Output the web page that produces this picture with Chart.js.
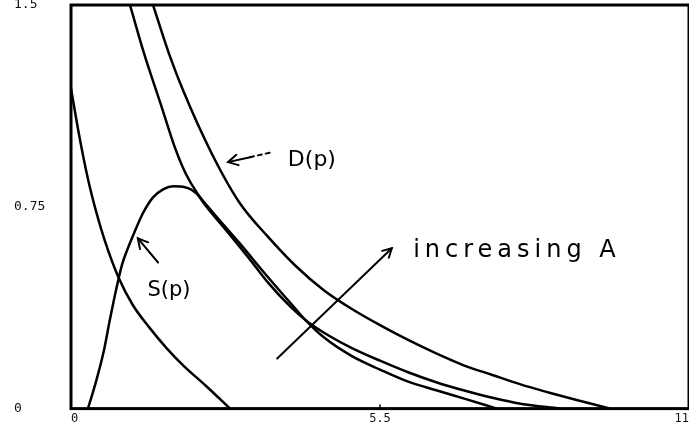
<!DOCTYPE html>
<html>
<head>
<meta charset="utf-8">
<script src="https://cdn.jsdelivr.net/npm/chart.js@4.4.1/dist/chart.umd.min.js"></script>
<style>
  html, body { margin: 0; padding: 0; background: #fff; }
  #wrap { width: 689px; height: 430px; }
</style>
</head>
<body>
<div id="wrap"><canvas id="chart" width="689" height="430"></canvas></div>
<script>
// Axis ticks
const xTicks = [0, 5.5, 11];
const yTicks = [0, 0.75, 1.5];

// Steep curve on the left (no label)
const leftX = [0, 0.15, 0.30, 0.45, 0.60, 0.84, 1.10, 1.40, 1.70, 2.00, 2.40, 2.83];
const leftY = [1.19, 1.01, 0.855, 0.73, 0.625, 0.49, 0.385, 0.30, 0.225, 0.16, 0.085, 0];

// S(p)
const supplyX = [0.30, 0.39, 0.48, 0.59, 0.69, 0.80, 0.91, 1.02, 1.12, 1.28, 1.46, 1.64, 1.82, 2.03, 2.23, 2.39, 2.83, 3.20, 3.50, 3.90, 4.20, 4.60, 5.00, 5.50, 6.00, 6.50, 7.00, 7.50, 8.00, 8.70];
const supplyY = [0, 0.06, 0.127, 0.22, 0.328, 0.439, 0.536, 0.60, 0.651, 0.726, 0.785, 0.815, 0.826, 0.823, 0.80, 0.756, 0.645, 0.55, 0.47, 0.38, 0.325, 0.27, 0.225, 0.178, 0.135, 0.098, 0.067, 0.04, 0.018, 0];

// Inner demand curve
const innerX = [1.05, 1.30, 1.60, 1.85, 2.05, 2.25, 2.50, 3.00, 3.50, 4.00, 4.17, 4.50, 5.00, 5.50, 6.00, 6.50, 7.00, 7.58];
const innerY = [1.50, 1.32, 1.13, 0.97, 0.87, 0.80, 0.735, 0.615, 0.49, 0.37, 0.33, 0.265, 0.195, 0.145, 0.10, 0.068, 0.037, 0];

// D(p)
const demandX = [1.46, 1.76, 2.00, 2.50, 3.00, 3.50, 4.00, 4.50, 5.00, 5.50, 6.00, 6.50, 7.00, 7.50, 8.00, 8.50, 9.00, 9.60];
const demandY = [1.50, 1.31, 1.18, 0.95, 0.765, 0.64, 0.53, 0.44, 0.37, 0.31, 0.255, 0.205, 0.16, 0.125, 0.09, 0.06, 0.032, 0];

function toPoints(xs, ys) {
  return xs.map((x, i) => ({ x: x, y: ys[i] }));
}

function curve(xs, ys) {
  return {
    data: toPoints(xs, ys),
    borderColor: '#000',
    borderWidth: 2.5,
    pointRadius: 0,
    fill: false,
    cubicInterpolationMode: 'monotone'
  };
}

// Open arrow head at (x2, y2)
function arrow(ctx, x1, y1, x2, y2, size) {
  const a = Math.atan2(y2 - y1, x2 - x1);
  ctx.beginPath();
  ctx.moveTo(x2 - size * Math.cos(a - 0.5), y2 - size * Math.sin(a - 0.5));
  ctx.lineTo(x2, y2);
  ctx.lineTo(x2 - size * Math.cos(a + 0.5), y2 - size * Math.sin(a + 0.5));
  ctx.stroke();
}

const whiteBg = {
  id: 'whiteBg',
  beforeDraw(chart) {
    const ctx = chart.ctx;
    ctx.save();
    ctx.fillStyle = '#fff';
    ctx.fillRect(0, 0, chart.width, chart.height);
    ctx.restore();
  }
};

const frameAndNotes = {
  id: 'frameAndNotes',
  afterDatasetsDraw(chart) {
    const { ctx, chartArea: a, scales: { x, y } } = chart;
    const px = v => x.getPixelForValue(v);
    const py = v => y.getPixelForValue(v);

    ctx.save();
    ctx.strokeStyle = '#000';
    ctx.lineWidth = 3;
    ctx.strokeRect(a.left, a.top, a.right - a.left, a.bottom - a.top);

    // small tick mark at the middle x tick
    ctx.lineWidth = 1.5;
    ctx.beginPath();
    ctx.moveTo(px(5.5), a.bottom);
    ctx.lineTo(px(5.5), a.bottom - 4);
    ctx.stroke();

    ctx.fillStyle = '#000';
    ctx.lineWidth = 2;
    ctx.lineCap = 'round';
    ctx.textBaseline = 'alphabetic';

    // D(p) label with dashed-tail arrow
    ctx.font = '22px "DejaVu Sans"';
    ctx.fillText('D(p)', px(3.86), py(0.90));
    const dTail = [px(3.58), py(0.953)], dHead = [px(2.795), py(0.916)];
    const mid = [dHead[0] + (dTail[0] - dHead[0]) * 0.5, dHead[1] + (dTail[1] - dHead[1]) * 0.5];
    ctx.beginPath();
    ctx.moveTo(mid[0], mid[1]);
    ctx.lineTo(dHead[0], dHead[1]);
    ctx.stroke();
    ctx.setLineDash([4, 4]);
    ctx.beginPath();
    ctx.moveTo(mid[0], mid[1]);
    ctx.lineTo(dTail[0], dTail[1]);
    ctx.stroke();
    ctx.setLineDash([]);
    arrow(ctx, dTail[0], dTail[1], dHead[0], dHead[1], 11);

    // S(p) label and arrow
    ctx.font = '21px "DejaVu Sans"';
    ctx.fillText('S(p)', px(1.36), py(0.42));
    const sTail = [px(1.55), py(0.543)], sHead = [px(1.19), py(0.633)];
    ctx.beginPath();
    ctx.moveTo(sTail[0], sTail[1]);
    ctx.lineTo(sHead[0], sHead[1]);
    ctx.stroke();
    arrow(ctx, sTail[0], sTail[1], sHead[0], sHead[1], 11);

    // increasing A
    ctx.font = '24px "DejaVu Sans"';
    ctx.letterSpacing = '5px';
    ctx.fillText('increasing A', px(6.09), py(0.565));
    ctx.letterSpacing = '0px';
    const iTail = [px(3.67), py(0.186)], iHead = [px(5.71), py(0.596)];
    ctx.beginPath();
    ctx.moveTo(iTail[0], iTail[1]);
    ctx.lineTo(iHead[0], iHead[1]);
    ctx.stroke();
    arrow(ctx, iTail[0], iTail[1], iHead[0], iHead[1], 10);
    ctx.restore();
  }
};

new Chart(document.getElementById('chart'), {
  type: 'line',
  data: {
    datasets: [
      curve(leftX, leftY),
      curve(supplyX, supplyY),
      curve(innerX, innerY),
      curve(demandX, demandY)
    ]
  },
  options: {
    responsive: false,
    animation: false,
    layout: { padding: { top: 0, left: 14, right: 0, bottom: 0 } },
    plugins: {
      legend: { display: false },
      tooltip: { enabled: false }
    },
    scales: {
      x: {
        type: 'linear',
        min: 0,
        max: 11,
        afterBuildTicks: axis => { axis.ticks = xTicks.map(v => ({ value: v })); },
        afterFit: axis => { axis.paddingRight = 0; axis.paddingLeft = 0; },
        grid: { display: false, drawTicks: false },
        border: { display: false },
        ticks: {
          align: 'inner',
          padding: 3.5,
          color: '#111',
          font: { family: 'DejaVu Sans Mono', size: 12 },
          callback: v => String(v)
        }
      },
      y: {
        min: 0,
        max: 1.5,
        afterBuildTicks: axis => { axis.ticks = yTicks.map(v => ({ value: v })); },
        afterFit: axis => { axis.width = 57; axis.paddingTop = 5; axis.paddingBottom = 0; },
        grid: { display: false, drawTicks: false },
        border: { display: false },
        ticks: {
          crossAlign: 'far',
          color: '#111',
          font: { family: 'DejaVu Sans Mono', size: 13 },
          callback: v => String(v)
        }
      }
    }
  },
  plugins: [whiteBg, frameAndNotes]
});
</script>
</body>
</html>
